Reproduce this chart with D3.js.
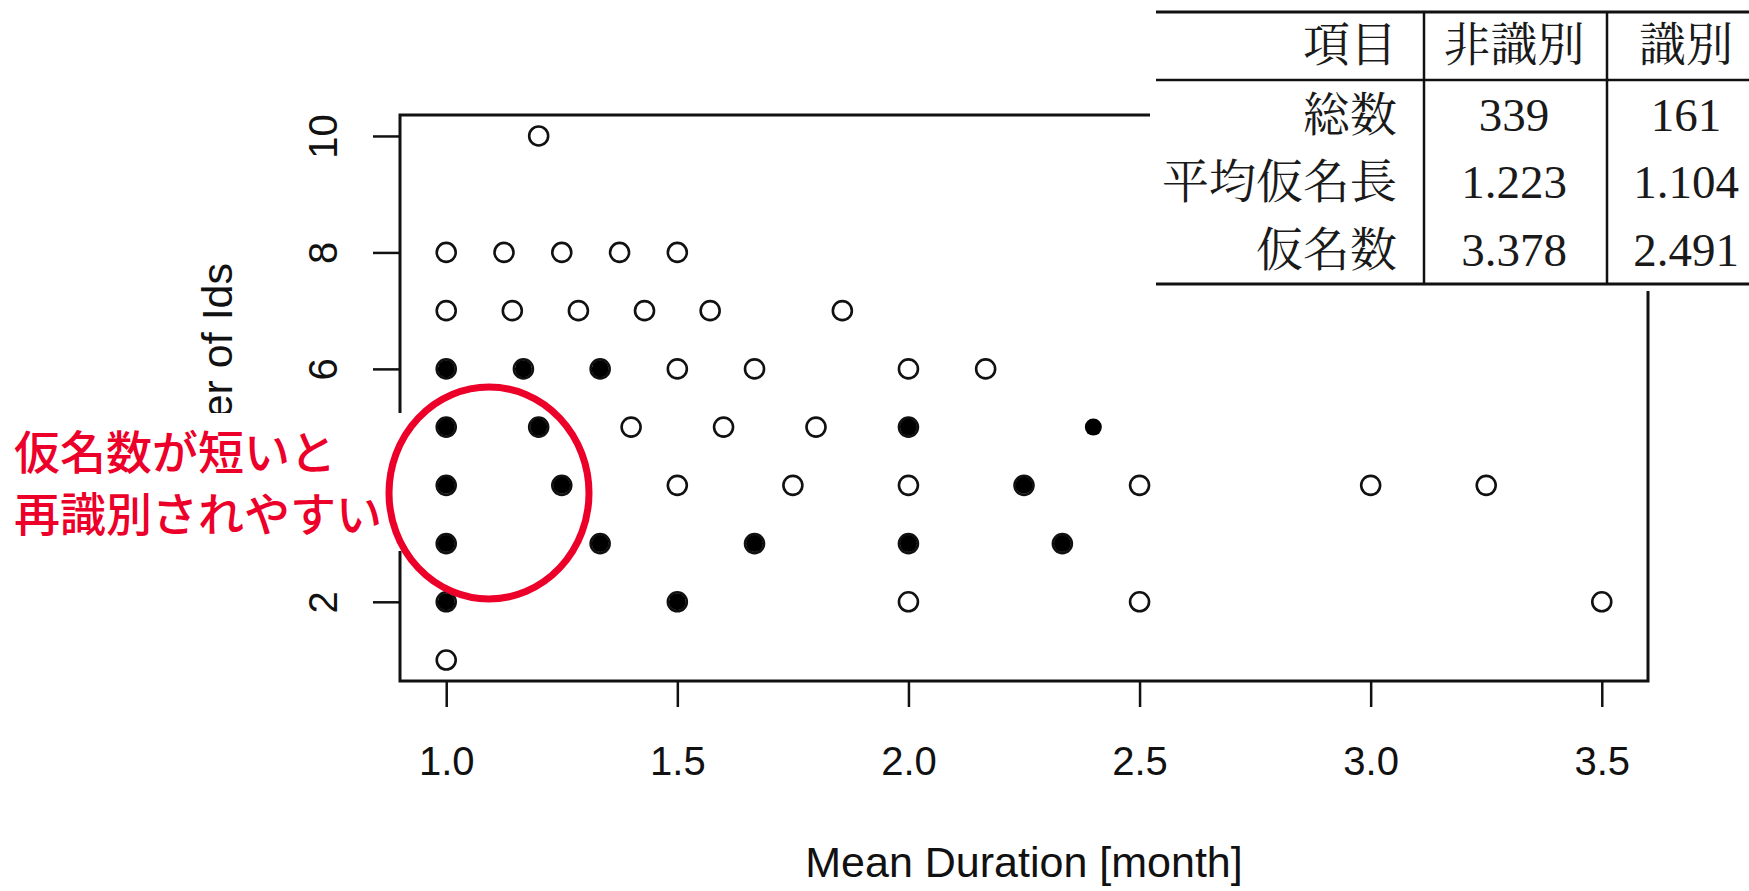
<!DOCTYPE html>
<html>
<head>
<meta charset="utf-8">
<script src="https://cdn.jsdelivr.net/npm/d3@7"></script>
<style>
  body { margin: 0; background: #fff; }
  .axis text { font-family: "Liberation Sans", Arial, sans-serif; font-size: 40px; fill: #111; }
</style>
</head>
<body>
<div id="chart"></div>
<script>
// data: open circles = non-identified, filled = identified
let nonIdX = [1.2,
    1.0, 1.125, 1.25, 1.375, 1.5,
    1.0, 1.143, 1.286, 1.429, 1.571, 1.857,
    1.0, 1.167, 1.333, 1.5, 1.667, 2.0, 2.167,
    1.0, 1.2, 1.4, 1.6, 1.8, 2.0,
    1.0, 1.25, 1.5, 1.75, 2.0, 2.25, 2.5, 3.0, 3.25,
    1.0, 1.333, 1.667, 2.0, 2.333,
    1.0, 1.5, 2.0, 2.5, 3.5,
    1.0];
let nonIdY = [10,
    8, 8, 8, 8, 8,
    7, 7, 7, 7, 7, 7,
    6, 6, 6, 6, 6, 6, 6,
    5, 5, 5, 5, 5, 5,
    4, 4, 4, 4, 4, 4, 4, 4, 4,
    3, 3, 3, 3, 3,
    2, 2, 2, 2, 2,
    1];

let idX = [1.0, 1.167, 1.333,
    1.0, 1.2, 2.0, 2.4,
    1.0, 1.25, 2.25,
    1.0, 1.333, 1.667, 2.0, 2.333,
    1.0, 1.5];
let idY = [6, 6, 6,
    5, 5, 5, 5,
    4, 4, 4,
    3, 3, 3, 3, 3,
    2, 2];

let xTicks = [1.0, 1.5, 2.0, 2.5, 3.0, 3.5];
let yTicks = [2, 4, 6, 8, 10];

let xTitle = "Mean Duration [month]";
let yTitle = "Number of Ids";

// summary table
let tableHeader = ["項目", "非識別", "識別"];
let rowLabels = ["総数", "平均仮名長", "仮名数"];
let nonIdStats = ["339", "1.223", "3.378"];
let idStats = ["161", "1.104", "2.491"];

let noteLines = ["仮名数が短いと", "再識別されやすい"];

let width = 1749;
let height = 891;

let margin = {top: 115, right: 101, bottom: 210, left: 400};

let svg = d3.select("#chart")
    .append("svg")
    .attr("width", width)
    .attr("height", height);

svg.append("rect")
    .attr("width", width)
    .attr("height", height)
    .attr("fill", "#fff");

let x = d3.scaleLinear()
    .domain([0.9, 3.6])
    .range([margin.left, width - margin.right]);

let y = d3.scaleLinear()
    .domain([0.64, 10.36])
    .range([height - margin.bottom, margin.top]);

// x axis
let xAxis = svg.append("g")
    .attr("class", "axis")
    .attr("transform", "translate(0," + (height - margin.bottom) + ")")
    .call(d3.axisBottom(x).tickValues(xTicks).tickSize(26).tickPadding(40).tickFormat(d3.format(".1f")));
xAxis.select(".domain").remove();
xAxis.selectAll("line").attr("stroke", "#111").attr("stroke-width", 2.5);

// y axis, labels turned like R
let yAxis = svg.append("g")
    .attr("class", "axis")
    .attr("transform", "translate(" + margin.left + ",0)")
    .call(d3.axisLeft(y).tickValues(yTicks).tickSize(27));
yAxis.select(".domain").remove();
yAxis.selectAll("line").attr("stroke", "#111").attr("stroke-width", 2.5);
yAxis.selectAll("text")
    .attr("x", 0)
    .attr("y", 0)
    .attr("dy", 0)
    .attr("text-anchor", "middle")
    .attr("dominant-baseline", "central")
    .attr("transform", "translate(-77,0) rotate(-90)");

// box
svg.append("rect")
    .attr("x", margin.left)
    .attr("y", margin.top)
    .attr("width", width - margin.right - margin.left)
    .attr("height", height - margin.bottom - margin.top)
    .attr("fill", "none")
    .attr("stroke", "#111")
    .attr("stroke-width", 3);

// titles
svg.append("text")
    .attr("x", (x(0.9) + x(3.6)) / 2)
    .attr("y", 862)
    .attr("text-anchor", "middle")
    .attr("dominant-baseline", "central")
    .style("font-family", "Liberation Sans, Arial, sans-serif")
    .style("font-size", "43px")
    .style("fill", "#111")
    .text(xTitle);

svg.append("text")
    .attr("transform", "translate(217," + ((y(0.64) + y(10.36)) / 2) + ") rotate(-90)")
    .attr("text-anchor", "middle")
    .attr("dominant-baseline", "central")
    .style("font-family", "Liberation Sans, Arial, sans-serif")
    .style("font-size", "43px")
    .style("fill", "#111")
    .text(yTitle);

// points
let openPts = nonIdX.map((v, i) => ({x: v, y: nonIdY[i]}));
let filledPts = idX.map((v, i) => ({x: v, y: idY[i]}));

svg.selectAll(".open")
    .data(openPts)
    .enter()
    .append("circle")
    .attr("class", "open")
    .attr("cx", d => x(d.x))
    .attr("cy", d => y(d.y))
    .attr("r", 9.5)
    .attr("fill", "none")
    .attr("stroke", "#111")
    .attr("stroke-width", 2.6);

svg.selectAll(".filled")
    .data(filledPts)
    .enter()
    .append("circle")
    .attr("class", "filled")
    .attr("cx", d => x(d.x))
    .attr("cy", d => y(d.y))
    .attr("r", 8.5)
    .attr("fill", "#000");

// table on top right
let tbl = svg.append("g");
tbl.append("rect")
    .attr("x", 1150).attr("y", 0)
    .attr("width", 600).attr("height", 291)
    .attr("fill", "#fff");

let colRight = 1397, col2 = 1514, col3 = 1686;
let rowY = [45, 115, 182, 250];
let tblFont = "'Liberation Serif', 'Noto Serif CJK JP', 'Noto Sans CJK JP', serif";

[[1156, 12, 3], [1156, 80, 2.5], [1156, 284, 3]].forEach(l => {
    tbl.append("line")
        .attr("x1", l[0]).attr("x2", width)
        .attr("y1", l[1]).attr("y2", l[1])
        .attr("stroke", "#111").attr("stroke-width", l[2]);
});
[1424, 1607].forEach(vx => {
    tbl.append("line")
        .attr("x1", vx).attr("x2", vx)
        .attr("y1", 12).attr("y2", 284)
        .attr("stroke", "#111").attr("stroke-width", 2.5);
});

let cells = [];
cells.push({t: tableHeader[0], x: colRight, y: rowY[0], a: "end"});
cells.push({t: tableHeader[1], x: col2, y: rowY[0], a: "middle"});
cells.push({t: tableHeader[2], x: col3, y: rowY[0], a: "middle"});
rowLabels.forEach((r, i) => {
    cells.push({t: r, x: colRight, y: rowY[i + 1], a: "end"});
    cells.push({t: nonIdStats[i], x: col2, y: rowY[i + 1], a: "middle"});
    cells.push({t: idStats[i], x: col3, y: rowY[i + 1], a: "middle"});
});

tbl.selectAll(".cell")
    .data(cells)
    .enter()
    .append("text")
    .attr("class", "cell")
    .attr("x", d => d.x)
    .attr("y", d => d.y)
    .attr("text-anchor", d => d.a)
    .attr("dominant-baseline", "central")
    .style("font-family", tblFont)
    .style("font-size", "47px")
    .style("fill", "#1a1a1a")
    .text(d => d.t);

// red note with white backing
let note = svg.append("g");
note.append("rect")
    .attr("x", 0).attr("y", 413)
    .attr("width", 406).attr("height", 138)
    .attr("fill", "#fff");

note.selectAll(".note")
    .data(noteLines)
    .enter()
    .append("text")
    .attr("class", "note")
    .attr("x", 14)
    .attr("y", (d, i) => 449 + i * 62)
    .attr("dominant-baseline", "central")
    .style("font-family", "'Noto Sans CJK JP', sans-serif")
    .style("font-size", "46px")
    .style("font-weight", 500)
    .style("fill", "#ec0029")
    .text(d => d);

note.append("ellipse")
    .attr("cx", 489).attr("cy", 493)
    .attr("rx", 100).attr("ry", 106)
    .attr("fill", "none")
    .attr("stroke", "#ec0029")
    .attr("stroke-width", 7);
</script>
</body>
</html>
